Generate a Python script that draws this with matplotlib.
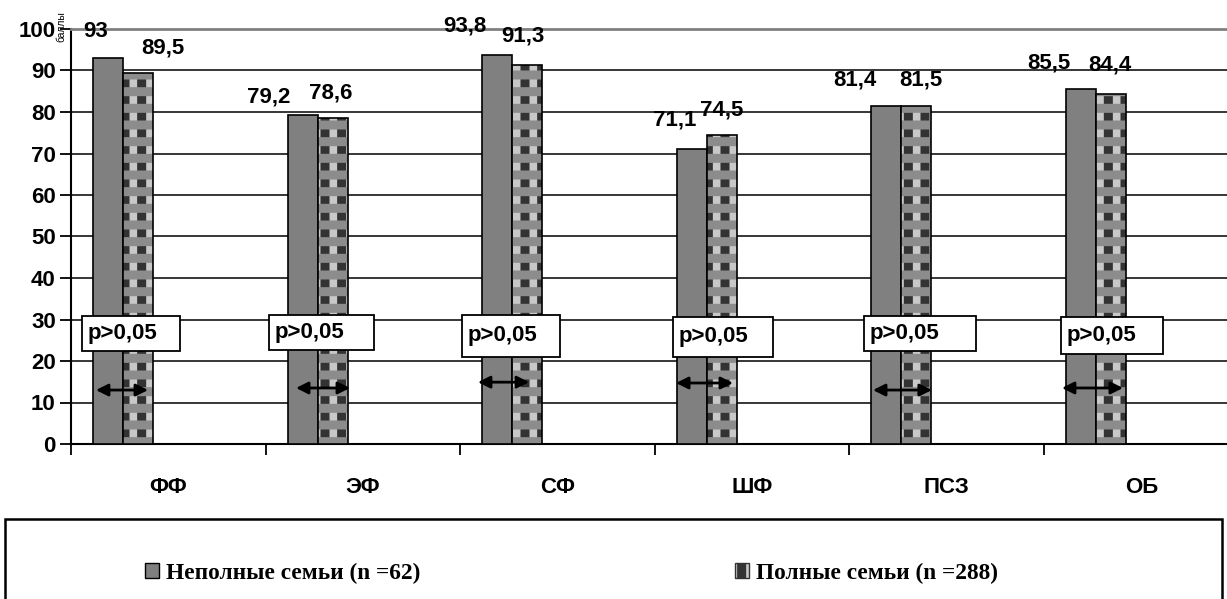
import matplotlib
matplotlib.use('Agg')
import matplotlib.pyplot as plt
from matplotlib.patches import Rectangle

# данные
kategorii = ['ФФ', 'ЭФ', 'СФ', 'ШФ', 'ПСЗ', 'ОБ']
nepolnye = [93, 79.2, 93.8, 71.1, 81.4, 85.5]
polnye = [89.5, 78.6, 91.3, 74.5, 81.5, 84.4]
metki_nep = ['93', '79,2', '93,8', '71,1', '81,4', '85,5']
metki_pol = ['89,5', '78,6', '91,3', '74,5', '81,5', '84,4']
p_tekst = 'p>0,05'

# подписи над столбцами сдвинуты вручную (пиксели)
dx_nep = [-12, -34, -32, -17, -32, -32]
dy_nep = [27, 18, 29, 29, 26, 26]
dx_pol = [25, -2, -4, 0, 4, -1]
dy_pol = [25, 25, 29, 25, 26, 29]

# рамки p>0,05 и стрелки (доли категории / значения оси)
box_x = [0.057, 0.017, 0.009, 0.094, 0.075, 0.087]
box_w = [0.504, 0.540, 0.504, 0.514, 0.576, 0.524]
box_y0 = [22.4, 22.65, 21.0, 21.0, 22.4, 21.7]
box_y1 = [30.8, 31.1, 31.1, 30.6, 30.8, 30.6]
str_x0 = [0.128, 0.156, 0.091, 0.109, 0.121, 0.092]
str_x1 = [0.396, 0.434, 0.354, 0.402, 0.424, 0.406]
str_y = [13.0, 13.5, 14.9, 14.7, 13.0, 13.5]

plt.rcParams['font.family'] = 'Liberation Sans'
plt.rcParams['font.weight'] = 'bold'
plt.rcParams['hatch.linewidth'] = 6.5

fig = plt.figure(figsize=(12.27, 5.99), dpi=100)
ax = fig.add_axes([71 / 1227, 1 - 444 / 599, 1167.6 / 1227, 415 / 599])

n = len(kategorii)
shir = 30 / 194.6
x_nep = [i + 22 / 194.6 + shir / 2 for i in range(n)]
x_pol = [i + 52 / 194.6 + shir / 2 for i in range(n)]

ax.set_axisbelow(True)
ax.yaxis.grid(True, color='black', linewidth=1.1)

ax.bar(x_nep, nepolnye, width=shir, color='#808080', edgecolor='black',
       linewidth=1.2, zorder=3)
ax.bar(x_pol, polnye, width=shir, color='#c8c8c8', edgecolor='#333333',
       hatch='|', linewidth=0, zorder=3)
ax.bar(x_pol, polnye, width=shir, fill=False, edgecolor='#8c8c8c',
       hatch='-', linewidth=0, zorder=3)
ax.bar(x_pol, polnye, width=shir, fill=False, edgecolor='black',
       linewidth=1.2, zorder=4)

fs = 16
for i in range(n):
    ax.annotate(metki_nep[i], (x_nep[i], nepolnye[i]),
                xytext=(dx_nep[i] * 0.72, dy_nep[i] * 0.72),
                textcoords='offset points', ha='center', va='center',
                fontsize=fs, fontweight='bold')
    ax.annotate(metki_pol[i], (x_pol[i], polnye[i]),
                xytext=(dx_pol[i] * 0.72, dy_pol[i] * 0.72),
                textcoords='offset points', ha='center', va='center',
                fontsize=fs, fontweight='bold')
    r = Rectangle((i + box_x[i], box_y0[i]), box_w[i], box_y1[i] - box_y0[i],
                  facecolor='white', edgecolor='black', linewidth=1.3, zorder=6)
    ax.add_patch(r)
    ax.text(i + box_x[i] + 0.03, (box_y0[i] + box_y1[i]) / 2, p_tekst,
            ha='left', va='center', fontsize=fs, fontweight='bold', zorder=7)
    ax.annotate('', xy=(i + str_x1[i], str_y[i]), xytext=(i + str_x0[i], str_y[i]),
                arrowprops=dict(arrowstyle='<|-|>', color='black', lw=2,
                                mutation_scale=18, shrinkA=0, shrinkB=0),
                zorder=7)

ax.set_ylim(0, 100)
ax.set_xlim(0, n)
ax.set_yticks(range(0, 101, 10))
ax.set_yticklabels([str(v) for v in range(0, 101, 10)], fontsize=fs,
                   fontweight='bold')
ax.set_xticks(range(0, n + 1))
ax.set_xticklabels([])
ax.set_xticks([i + 0.5 for i in range(n)], minor=True)
ax.set_xticklabels(kategorii, minor=True, fontsize=fs, fontweight='bold')
ax.tick_params(axis='x', which='major', length=8, width=1.3, direction='out')
ax.tick_params(axis='x', which='minor', length=0, pad=24)
ax.tick_params(axis='y', length=8, width=1.3, direction='out', pad=3)

ax.spines['top'].set_color('#808080')
ax.spines['top'].set_linewidth(2)
ax.spines['left'].set_linewidth(1.5)
ax.spines['bottom'].set_linewidth(1.5)
ax.spines['right'].set_visible(False)

fig.text(61 / 1227, 1 - 27 / 599, 'баллы', rotation=90, fontsize=7.5,
         fontweight='normal', ha='center', va='center')

# легенда
fig.patches.append(Rectangle((5 / 1227, -0.02), 1217 / 1227, 0.02 + 1 - 519 / 599,
                             transform=fig.transFigure, facecolor='white',
                             edgecolor='black', linewidth=1.8))
h1 = Rectangle((0, 0), 1, 1, facecolor='#808080', edgecolor='black', linewidth=1)
h2 = Rectangle((0, 0), 1, 1, facecolor='#c8c8c8', edgecolor='#333333', hatch='|',
               linewidth=1)
leg_font = {'family': 'Liberation Serif', 'weight': 'bold', 'size': 16.8}
fig.legend([h1], ['Неполные семьи (n =62)'], loc='center left',
           bbox_to_anchor=(124 / 1227, 1 - 573 / 599), frameon=False,
           prop=leg_font, handlelength=0.6, handleheight=0.6, handletextpad=0.3)
fig.legend([h2], ['Полные семьи (n =288)'], loc='center left',
           bbox_to_anchor=(714 / 1227, 1 - 573 / 599), frameon=False,
           prop=leg_font, handlelength=0.6, handleheight=0.6, handletextpad=0.3)

fig.savefig('out.png', dpi=100)
